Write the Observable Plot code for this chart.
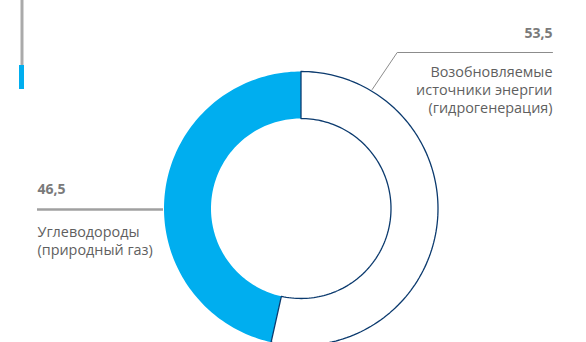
<!DOCTYPE html>
<html><head><meta charset="utf-8">
<script src="https://cdn.jsdelivr.net/npm/d3@7"></script>
<script src="https://cdn.jsdelivr.net/npm/@observablehq/plot@0.6"></script>
<style>body{margin:0;background:#fff}</style>
</head><body><div id="chart"></div>
<script>
const categories = ["Возобновляемые источники энергии (гидрогенерация)", "Углеводороды (природный газ)"];
const shortLabels = ["Возобновляемые\nисточники энергии\n(гидрогенерация)", "Углеводороды\n(природный газ)"];
const values = [53.5, 46.5];
const valueLabels = ["53,5", "46,5"];

const R_OUT = 137, R_IN = 90;
const pie = d3.pie().sort(null).value(d => d)(values);
// build polygon points of each annular slice (angle 0 at top, clockwise)
const pts = [];
pie.forEach((p, i) => {
  const n = 120;
  const ring = [];
  for (let k = 0; k <= n; k++) { const a = p.startAngle + (p.endAngle - p.startAngle) * k / n; ring.push([R_OUT * Math.sin(a), -R_OUT * Math.cos(a)]); }
  for (let k = n; k >= 0; k--) { const a = p.startAngle + (p.endAngle - p.startAngle) * k / n; ring.push([R_IN * Math.sin(a), -R_IN * Math.cos(a)]); }
  ring.forEach(([x, y]) => pts.push({x, y, cat: categories[i]}));
});

const font = "'Open Sans', Lato, sans-serif";
const chart = Plot.plot({
  width: 586, height: 342,
  margin: 0,
  x: {domain: [-300.5, 285.5], range: [0, 586], axis: null},
  y: {domain: [-208, 134], range: [0, 342], axis: null},
  style: {fontFamily: font, background: "#fff"},
  marks: [
    // decorative left bar
    Plot.ruleX([-279], {y1: -220, y2: -143, stroke: "#aaaaaa", strokeWidth: 3}),
    Plot.rect([0], {x1: -281.5, x2: -276.5, y1: -143, y2: -119, fill: "#00aeef"}),
    // slices
    Plot.line(pts.filter(d => d.cat === categories[1]), {x: "x", y: "y", curve: "linear-closed", fill: "#00aeef", stroke: "none"}),
    Plot.line(pts.filter(d => d.cat === categories[0]), {x: "x", y: "y", curve: "linear-closed", fill: "#ffffff", stroke: "#0b3a6e", strokeWidth: 1.3}),
    // leader lines
    Plot.line([{x: 71.2, y: -119}, {x: 96.2, y: -156}, {x: 251.5, y: -156}], {x: "x", y: "y", stroke: "#8c8c8c", strokeWidth: 1}),
    Plot.ruleY([1], {x1: -263.5, x2: -137.5, stroke: "#a0a0a0", strokeWidth: 2.5}),
    // value labels
    Plot.text([valueLabels[0]], {x: [251.5], y: [-171], text: d => d, textAnchor: "end", lineAnchor: "bottom", fontSize: 14, fontWeight: "bold", fill: "#7a7a7a"}),
    Plot.text([valueLabels[1]], {x: [-263.5], y: [-15], text: d => d, textAnchor: "start", lineAnchor: "bottom", fontSize: 14, fontWeight: "bold", fill: "#7a7a7a"}),
    // category labels
    Plot.text([shortLabels[0]], {x: [251.5], y: [-143.5], text: d => d, textAnchor: "end", lineAnchor: "top", lineHeight: 1.22, fontSize: 14.4, fill: "#5f5f5f"}),
    Plot.text([shortLabels[1]], {x: [-263.5], y: [16.5], text: d => d, textAnchor: "start", lineAnchor: "top", lineHeight: 1.22, fontSize: 14.4, fill: "#5f5f5f"})
  ]
});
document.getElementById("chart").appendChild(chart);
</script>
</body></html>
